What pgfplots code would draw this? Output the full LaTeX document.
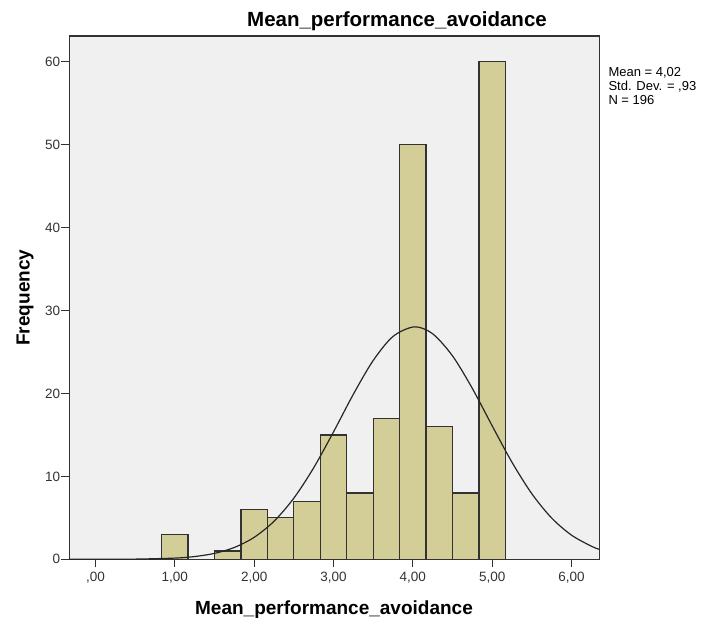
\documentclass[border=0pt]{standalone}
\usepackage{pgfplots}
\pgfplotsset{compat=1.18}
\usepackage{fontspec}
\setmainfont{Liberation Sans}
\definecolor{barfill}{RGB}{211,206,151}
\definecolor{bg}{RGB}{240,240,240}
\definecolor{frame}{RGB}{50,50,50}
\begin{document}
\begin{tikzpicture}[x=1pt,y=1pt]
\useasboundingbox (-69.3pt,-64.7pt) rectangle (632.7pt,559.3pt);
\fill[white] (-69.3pt,-64.7pt) rectangle (632.7pt,559.3pt);
\begin{axis}[
  at={(0pt,0pt)}, anchor=south west,
  scale only axis, width=530pt, height=523.3pt,
  xmin=-0.33, xmax=6.35, ymin=0, ymax=63.1,
  axis background/.style={fill=bg},
  axis line style={draw=frame, line width=1.2pt},
  xtick={0,1,2,3,4,5,6},
  xticklabels={{,00},{1,00},{2,00},{3,00},{4,00},{5,00},{6,00}},
  ytick={0,10,20,30,40,50,60},
  tick pos=left, tick align=outside,
  major tick length=8pt,
  tick style={draw=frame, line width=1.2pt},
  /pgf/number format/assume math mode=true,
  tick label style={font=\fontsize{13.5}{15}\selectfont, text=black!80},
  xticklabel style={inner sep=1pt, yshift=-4pt},
  yticklabel style={inner sep=1pt},
  clip=true,
]
\addplot[ybar interval, fill=barfill, draw=frame, line width=1.2pt] coordinates {
  (0.8333,3) (1.1667,0) (1.5,1) (1.8333,6) (2.1667,5) (2.5,7)
  (2.8333,15) (3.1667,8) (3.5,17) (3.8333,50) (4.1667,16) (4.5,8)
  (4.8333,60) (5.1667,0)
};
\addplot[smooth, black!85, line width=1.2pt] coordinates {
  (-0.33,0.0006) (0,0.0025) (0.5,0.022) (1.0,0.144) (1.25,0.332) (1.5,0.714)
  (1.75,1.425) (2.0,2.649) (2.25,4.583) (2.5,7.372) (2.75,11.03)
  (3.0,15.36) (3.25,19.90) (3.5,23.97) (3.75,26.87) (4.02,28.03)
  (4.25,27.19) (4.5,24.53) (4.75,20.60) (5.0,16.09) (5.25,11.69)
  (5.5,7.90) (5.75,4.97) (6.0,2.91) (6.25,1.58) (6.35,1.20)
};
\end{axis}
\node[anchor=base, inner sep=0pt, font=\fontsize{20.5}{22}\selectfont\bfseries] at (327.7pt,532.3pt) {Mean\_performance\_avoidance};
\node[anchor=base, inner sep=0pt, font=\fontsize{19}{21}\selectfont\bfseries] at (264.7pt,-55.7pt) {Mean\_performance\_avoidance};
\node[rotate=90, inner sep=0pt, font=\fontsize{19}{21}\selectfont\bfseries] at (-44.3pt,261.7pt) {Frequency};
\node[anchor=base west, inner sep=0pt, font=\fontsize{13}{14}\selectfont] at (539pt,482.6pt) {Mean = 4,02};
\node[anchor=base west, inner sep=0pt, font=\fontsize{13}{14}\selectfont] at (539pt,468.6pt) {Std. Dev. = ,93};
\node[anchor=base west, inner sep=0pt, font=\fontsize{13}{14}\selectfont] at (539pt,454.6pt) {N = 196};
\end{tikzpicture}
\end{document}
